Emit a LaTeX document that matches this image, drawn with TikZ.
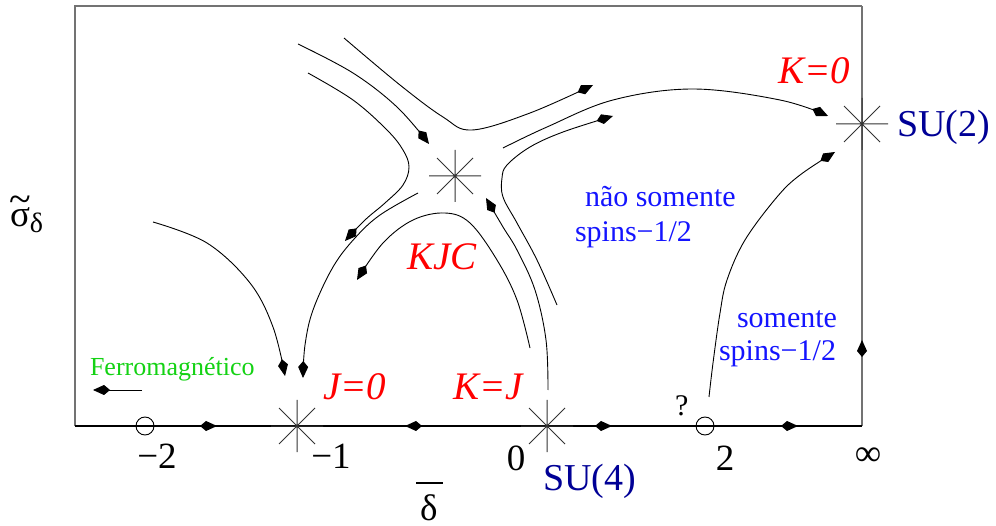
\documentclass[tikz,border=0pt]{standalone}
\usepackage{fontspec}
\setmainfont{Liberation Serif}
\usetikzlibrary{arrows.meta,decorations.markings}
\definecolor{kred}{RGB}{255,0,0}
\definecolor{kblue}{RGB}{20,20,255}
\definecolor{knavy}{RGB}{0,0,150}
\definecolor{kgreen}{RGB}{20,210,20}
\newcommand\fsz[1]{\fontsize{#1}{#1}\selectfont}
\begin{document}
\begin{tikzpicture}[x=1pt,y=-1pt,
  kite/.tip={Kite[length=17pt,width=10pt,inset=6pt]},
  flow/.style={line width=0.9pt,-kite},
  axisline/.style={line width=1.3pt},
  frameline/.style={line width=1.3pt,black!55},
  lab/.style={inner sep=0pt,outer sep=0pt},
  fpstar/.pic={\draw[line width=1pt,black!80] (-26,0)--(26,0) (0,-26)--(0,26) (-18,-18)--(18,18) (-18,18)--(18,-18);},
  fpcircle/.style={circle,draw,line width=0.9pt,minimum size=18pt,inner sep=0pt}]
\useasboundingbox (0,0) rectangle (996,526);
% fixed points
\coordinate (jz) at (297,426);
\coordinate (su4) at (547,426);
\coordinate (kjc) at (455,176);
\coordinate (su2) at (862,124);
\coordinate (fl) at (75,6);
\coordinate (fr) at (862,6);
\coordinate (bl) at (75,426);
\coordinate (br) at (862,426);
% frame
\draw[frameline] (bl) -- (fl) -- (fr);
\draw[frameline,postaction={decorate},decoration={markings,
  mark=at position 86pt with {\arrow[black]{kite}}}] (br) -- (fr);
% axis
\draw[axisline,postaction={decorate},decoration={markings,
  mark=at position 142pt with {\arrow{kite}},
  mark=at position 330pt with {\arrowreversed{kite}},
  mark=at position 537pt with {\arrow{kite}},
  mark=at position 723pt with {\arrow{kite}}}] (bl) -- (br);
\node[fpcircle] (cm2) at (145,426) {};
\node[fpcircle] (c2) at (705,426) {};
\pic at (jz) {fpstar};
\pic at (su4) {fpstar};
\pic at (kjc) {fpstar};
\pic at (su2) {fpstar};
% flows
\draw[flow] plot[smooth,tension=0.6] coordinates {(298,44) (353,73) (397,107) (429,144)};
\draw[flow] plot[smooth,tension=0.6] coordinates {(344,38) (400,85) (443,117) (472,130) (530,113) (593,85)};
\draw[flow] plot[smooth,tension=0.6] coordinates {(503,148) (547,127) (613,100) (693,89) (780,100) (828,116)};
\draw[flow] plot[smooth,tension=0.6] coordinates {(557,305) (537,260) (517,223) (503,197) (502,178) (507,165) (530,147) (563,132) (613,116)};
\draw[flow] plot[smooth,tension=0.6] coordinates {(548,390) (546,340) (535,290) (517,250) (503,227) (486,198)};
\draw[flow] plot[smooth,tension=0.6] coordinates {(530,348) (517,300) (497,260) (470,223) (445,213) (413,220) (383,243) (357,280)};
\draw[flow] plot[smooth,tension=0.6] coordinates {(418,193) (380,215) (355,238) (333,267) (313,310) (305,345) (303,378)};
\draw[flow] plot[smooth,tension=0.6] coordinates {(308,73) (353,100) (387,130) (403,150) (409,167) (403,185) (385,203) (365,220) (345,241)};
\draw[flow] plot[smooth,tension=0.6] coordinates {(153,222) (207,243) (250,283) (273,327) (285,376)};
\draw[flow] plot[smooth,tension=0.6] coordinates {(709,397) (713,363) (720,313) (727,280) (745,240) (777,197) (800,175) (835,152)};
% ferromagnetic arrow
\coordinate (fa) at (142,390);
\coordinate (fb) at (93,390);
\draw[flow] (fa) -- (fb);
% labels
\node[lab,anchor=base west,font={\fsz{26}},text=kgreen] (ferro) at (90,376) {Ferromagnético};
\node[lab,anchor=base,font={\fsz{37}}] (lm2) at (157,468) {−2};
\node[lab,anchor=base,font={\fsz{37}}] (lm1) at (331,468) {−1};
\node[lab,anchor=base,font={\fsz{37}}] (l0) at (516,470) {0};
\node[lab,anchor=base,font={\fsz{37}}] (l2) at (725,470) {2};
\node[lab,anchor=base,font={\fsz{37}}] (linf) at (868,465) {∞};
\node[lab,anchor=base west,font={\fsz{30}}] (lq) at (675,416) {?};
\node[lab,anchor=base west,font={\fsz{38}},text=knavy] (lsu4) at (543,490) {SU(4)};
\node[lab,anchor=base west,font={\fsz{38}},text=knavy] (lsu2) at (897,137) {SU(2)};
\node[lab,anchor=base west,font={\fsz{39}\itshape},text=kred] (lk0) at (778,84) {K=0};
\node[lab,anchor=base west,font={\fsz{39}\itshape},text=kred] (lj0) at (323,400) {J=0};
\node[lab,anchor=base west,font={\fsz{39}\itshape},text=kred] (lkj) at (453,400) {K=J};
\node[lab,anchor=base west,font={\fsz{39}\itshape},text=kred] (lkjc) at (407,270) {KJC};
\node[lab,anchor=base west,font={\fsz{30}},text=kblue] (ns1) at (585,207) {não somente};
\node[lab,anchor=base west,font={\fsz{30}},text=kblue] (ns2) at (575,242) {spins−1/2};
\node[lab,anchor=base east,font={\fsz{30}},text=kblue] (s1) at (837,328) {somente};
\node[lab,anchor=base east,font={\fsz{30}},text=kblue] (s2) at (836,361) {spins−1/2};
% axis labels
\node[lab,anchor=base west,font={\fsz{37}}] (sig) at (10,227)
  {\rlap{\kern-1pt\raisebox{14pt}{\fsz{40}\textasciitilde}}σ\raisebox{-6pt}{\fsz{28}δ}};
\node[lab,anchor=base west,font={\fsz{37}}] (del) at (420,520) {δ};
\draw[line width=1.8pt] (416,483) -- (443,483);
\end{tikzpicture}
\end{document}
